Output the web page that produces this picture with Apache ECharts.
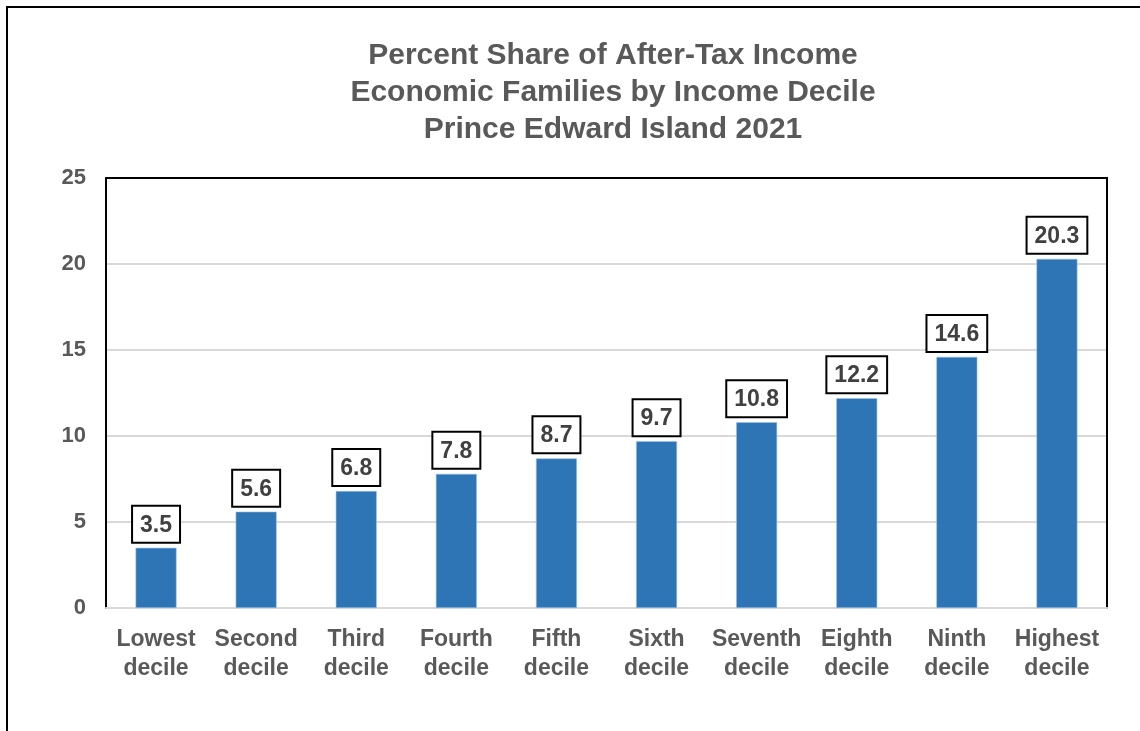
<!DOCTYPE html>
<html>
<head>
<meta charset="utf-8">
<script src="https://cdn.jsdelivr.net/npm/echarts@6/dist/echarts.min.js"></script>
<style>
  html, body { margin: 0; padding: 0; background: #ffffff; }
  #chart { width: 1140px; height: 731px; }
</style>
</head>
<body>
<div id="chart"></div>
<script>
// Income deciles and their percent share of after-tax income
const categories = [
  'Lowest\ndecile', 'Second\ndecile', 'Third\ndecile', 'Fourth\ndecile', 'Fifth\ndecile',
  'Sixth\ndecile', 'Seventh\ndecile', 'Eighth\ndecile', 'Ninth\ndecile', 'Highest\ndecile'
];
const shares = [3.5, 5.6, 6.8, 7.8, 8.7, 9.7, 10.8, 12.2, 14.6, 20.3];
const titleLines = [
  'Percent Share of After-Tax Income',
  'Economic Families by Income Decile',
  'Prince Edward Island 2021'
];
const yMin = 0, yMax = 25, yStep = 5;

const FONT = '"Liberation Sans", Arial, sans-serif';
const GREY_TEXT = '#595959';

const chart = echarts.init(document.getElementById('chart'), null, { renderer: 'canvas' });

chart.setOption({
  backgroundColor: '#ffffff',
  animation: false,
  title: {
    text: titleLines.join('\n'),
    left: 608,
    textAlign: 'center',
    top: 32,
    textStyle: {
      fontFamily: FONT,
      fontWeight: 'bold',
      fontSize: 30,
      lineHeight: 37,
      color: GREY_TEXT
    }
  },
  graphic: [{
    // frame around the whole figure
    type: 'rect',
    shape: { x: 7, y: 7, width: 1200, height: 1000 },
    style: { fill: null, stroke: '#000000', lineWidth: 2 },
    silent: true,
    z: 100
  }],
  grid: { left: 106, right: 33, top: 178, bottom: 123 },
  xAxis: [{
    type: 'category',
    data: categories,
    axisLine: { show: true, onZero: false, lineStyle: { color: '#D9D9D9', width: 2 } },
    axisTick: { show: false },
    axisLabel: {
      interval: 0,
      margin: 17,
      fontFamily: FONT,
      fontWeight: 'bold',
      fontSize: 23,
      lineHeight: 29,
      color: GREY_TEXT
    }
  }, {
    // top edge of the plot frame
    type: 'category',
    position: 'top',
    data: categories,
    axisLine: { show: true, onZero: false, lineStyle: { color: '#000000', width: 2 } },
    axisTick: { show: false },
    axisLabel: { show: false }
  }],
  yAxis: [{
    type: 'value',
    min: yMin,
    max: yMax,
    interval: yStep,
    axisLine: { show: true, onZero: false, lineStyle: { color: '#000000', width: 2 } },
    axisTick: { show: false },
    splitLine: { lineStyle: { color: '#D9D9D9', width: 2 } },
    axisLabel: {
      margin: 20,
      fontFamily: FONT,
      fontWeight: 'bold',
      fontSize: 22,
      color: GREY_TEXT
    }
  }, {
    // right edge of the plot frame
    type: 'value',
    position: 'right',
    min: yMin,
    max: yMax,
    interval: yStep,
    axisLine: { show: true, onZero: false, lineStyle: { color: '#000000', width: 2 } },
    axisTick: { show: false },
    splitLine: { show: false },
    axisLabel: { show: false }
  }],
  series: [{
    type: 'bar',
    data: shares,
    barWidth: 41,
    itemStyle: { color: '#2E75B6', borderColor: '#9DC3E6', borderWidth: 0.6 },
    label: {
      show: true,
      position: 'top',
      distance: 6,
      formatter: (p) => p.value.toFixed(1),
      fontFamily: FONT,
      fontWeight: 'bold',
      fontSize: 23,
      color: '#404040',
      backgroundColor: '#ffffff',
      borderColor: '#000000',
      borderWidth: 2,
      padding: [7, 7, 5, 7]
    }
  }]
});
</script>
</body>
</html>
